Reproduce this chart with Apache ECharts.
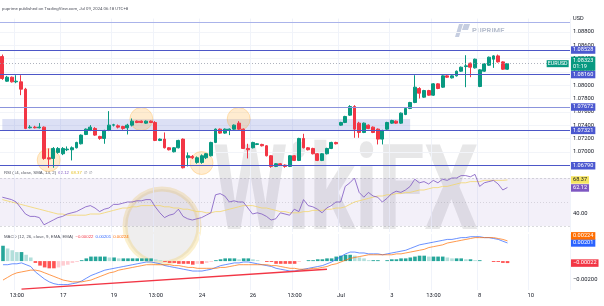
<!DOCTYPE html>
<html><head><meta charset="utf-8">
<script src="https://cdn.jsdelivr.net/npm/echarts@6/dist/echarts.min.js"></script>
<style>html,body{margin:0;padding:0;background:#fff}#c{width:604px;height:306px}</style>
</head><body><div id="c"></div>
<script>
// ---------- data ----------
const N = 123; // bar slots on time axis (incl. empty future)
const timeLabels = ['13:00','17','19','13:00','24','26','13:00','Jul','3','13:00','8','10'];
const timeLabelBars = [3,13,24,33,43,54,63,73,84,93,103,114];
const priceTicks = [1.070,1.072,1.074,1.076,1.078,1.080,1.082,1.084,1.086,1.088];
const rsiTicks = [40];
const macdTicks = [-0.002];

const opens = [1.0843,1.0806,1.0812,1.0805,1.0805,1.0794,1.0736,1.0737,1.0736,1.0737,
1.0691,1.0690,1.0699,1.0697,1.0703,1.0703,1.0706,1.0712,1.0726,1.0732,
1.0735,1.0723,1.0720,1.0732,1.0740,1.0739,1.0738,1.0736,1.0740,1.0746,
1.0746,1.0743,1.0746,1.0744,1.0717,1.0719,1.0706,1.0700,1.0706,1.0719,
1.0691,1.0693,1.0684,1.0684,1.0691,1.0694,1.0714,1.0734,1.0728,1.0732,
1.0734,1.0743,1.0734,1.0705,1.0706,1.0711,1.0711,1.0709,1.0694,1.0678,
1.0682,1.0680,1.0678,1.0694,1.0687,1.0720,1.0706,1.0705,1.0697,1.0687,
1.0697,1.0705,1.0714,1.0740,1.0744,1.0755,1.0768,1.0743,1.0729,1.0740,
1.0737,1.0734,1.0719,1.0734,1.0743,1.0746,1.0743,1.0756,1.0765,1.0774,
1.0795,1.0782,1.0792,1.0785,1.0802,1.0797,1.0814,1.0811,1.0814,1.0821,
1.0828,1.0833,1.0826,1.0798,1.0821,1.0830,1.0839,1.0844,1.0835,1.0824];
const highs = [1.0846,1.0814,1.0813,1.0815,1.0815,1.0796,1.0740,1.0739,1.0743,1.0738,
1.0705,1.0707,1.0707,1.0707,1.0708,1.0708,1.0715,1.0726,1.0735,1.0740,
1.0737,1.0724,1.0733,1.0761,1.0742,1.0741,1.0739,1.0742,1.0750,1.0747,
1.0747,1.0747,1.0747,1.0746,1.0720,1.0729,1.0707,1.0707,1.0718,1.0720,
1.0699,1.0695,1.0693,1.0696,1.0698,1.0715,1.0735,1.0735,1.0735,1.0735,
1.0741,1.0746,1.0735,1.0712,1.0715,1.0713,1.0712,1.0710,1.0695,1.0683,
1.0683,1.0681,1.0695,1.0695,1.0721,1.0727,1.0707,1.0706,1.0698,1.0698,
1.0706,1.0715,1.0715,1.0745,1.0754,1.0770,1.0770,1.0745,1.0744,1.0741,
1.0738,1.0735,1.0733,1.0745,1.0748,1.0747,1.0759,1.0766,1.0775,1.0815,
1.0797,1.0793,1.0793,1.0803,1.0803,1.0815,1.0815,1.0815,1.0822,1.0828,
1.0845,1.0834,1.0840,1.0824,1.0833,1.0843,1.0845,1.0846,1.0836,1.0833];
const lows = [1.0808,1.0805,1.0804,1.0803,1.0785,1.0734,1.0735,1.0735,1.0735,1.0688,
1.0676,1.0676,1.0697,1.0695,1.0701,1.0687,1.0705,1.0711,1.0725,1.0731,
1.0724,1.0718,1.0712,1.0731,1.0738,1.0735,1.0733,1.0726,1.0738,1.0743,
1.0743,1.0742,1.0743,1.0716,1.0716,1.0705,1.0702,1.0699,1.0705,1.0675,
1.0678,1.0689,1.0682,1.0682,1.0689,1.0693,1.0713,1.0727,1.0727,1.0725,
1.0733,1.0733,1.0704,1.0690,1.0705,1.0710,1.0708,1.0693,1.0676,1.0677,
1.0679,1.0676,1.0677,1.0686,1.0686,1.0705,1.0702,1.0696,1.0686,1.0686,
1.0696,1.0704,1.0711,1.0739,1.0743,1.0754,1.0721,1.0721,1.0728,1.0734,
1.0728,1.0711,1.0711,1.0733,1.0742,1.0742,1.0742,1.0755,1.0764,1.0773,
1.0780,1.0781,1.0784,1.0784,1.0794,1.0796,1.0811,1.0810,1.0813,1.0820,
1.0797,1.0812,1.0825,1.0797,1.0820,1.0829,1.0826,1.0834,1.0823,1.0823];
const closes = [1.0810,1.0812,1.0805,1.0806,1.0794,1.0735,1.0737,1.0736,1.0737,1.0690,
1.0689,1.0705,1.0705,1.0705,1.0704,1.0706,1.0714,1.0725,1.0734,1.0737,
1.0725,1.0720,1.0732,1.0740,1.07405,1.0737,1.0735,1.0740,1.0746,1.0744,
1.0744,1.0746,1.0744,1.0717,1.0719,1.0706,1.0703,1.0706,1.0717,1.0676,
1.0694,1.0691,1.0691,1.0694,1.0697,1.0714,1.0734,1.0728,1.0734,1.0734,
1.0740,1.0734,1.0705,1.0703,1.0714,1.0712,1.0709,1.0694,1.0678,1.0682,
1.0680,1.0678,1.0694,1.0687,1.0720,1.0706,1.0703,1.0697,1.0687,1.0697,
1.0705,1.0714,1.0712,1.0744,1.0753,1.0768,1.0734,1.0729,1.0743,1.0735,
1.0729,1.0719,1.0732,1.0744,1.0747,1.0743,1.0758,1.0765,1.0774,1.0797,
1.0788,1.0792,1.0785,1.0802,1.0795,1.0814,1.0812,1.0814,1.0821,1.0827,
1.0829,1.0827,1.0839,1.0823,1.0832,1.0842,1.0844,1.0835,1.0824,1.08323];

const levelLines = [1.08528,1.08160,1.07672,1.07321,1.06790];
const topLine = 1.08949;
const zoneLow = 1.07321, zoneHigh = 1.07492, zoneEndBar = 88;
const circleBars = [10,30,43,51];
const circlePrices = [1.06876,1.07492,1.06831,1.07492];
const lastPrice = 1.08323, lastTime = '01:19', symbolName = 'EURUSD';

const rsi = [54,53,52,50,45,40,38,38,37,31,
33,35,37,38,40,41,42,44,46,47,
45,42,44,45,48,48,49,50,50,51,
51,52,52,46,41,37,39,40,44,38,
36,35,36,37,39,41,56,57,55,50,
51,50,50,45,40,41,40,38,35,36,
41,40,39,44,42,52,47,46,44,41,
45,47,50,50,63,66,70,58,54,58,
55,54,50,53,57,59,58,60,63,69,
66,67,65,68,66,69,68,70,70,72,
72,71,73,63,66,67,68,65,60,62.12];
const rsiMa = [52,51,50,49,48,47,46,45,44,43,
42,41,40,40,39,39,39,39,39,40,
40,40,41,42,43,44,45,45,46,46,
47,47,47,47,47,46,46,45,45,44,
44,43,42,42,41,41,42,42,43,44,
45,46,47,47,47,46,45,45,44,43,
42,42,41,41,41,42,42,43,43,43,
44,44,45,45,46,48,50,51,52,53,
54,55,55,56,56,57,57,58,58,59,
60,60,61,62,62,63,63,64,65,66,
66,67,67,67,68,68,68,68,68,68.37];
const macd = [-0.0004,-0.0004,-0.0003,-0.0003,-0.0002,-0.0004,-0.0006,-0.0012,-0.0016,-0.0020,
-0.0023,-0.0025,-0.0026,-0.0026,-0.0026,-0.0025,-0.0024,-0.0022,-0.0019,-0.0016,
-0.0014,-0.0012,-0.0010,-0.0009,-0.0008,-0.0007,-0.0006,-0.0005,-0.0004,-0.0003,
-0.0002,-0.0001,-0.0001,-0.0002,-0.0003,-0.0005,-0.0006,-0.0007,-0.0008,-0.0009,
-0.0010,-0.0011,-0.0011,-0.0011,-0.0010,-0.0009,-0.0007,-0.0005,-0.0004,-0.0003,
-0.0002,-0.0002,-0.0001,-0.0001,-0.0002,-0.0003,-0.0004,-0.0005,-0.0006,-0.0008,
-0.0009,-0.0010,-0.0011,-0.0011,-0.0010,-0.0009,-0.0008,-0.0007,-0.0006,-0.0005,
-0.0003,-0.0001,0.0002,0.0005,0.0008,0.0010,0.0010,0.0009,0.0009,0.0008,
0.0008,0.0008,0.0007,0.0008,0.0009,0.0010,0.0011,0.0012,0.0014,0.0016,
0.0018,0.0019,0.0020,0.0021,0.0022,0.0023,0.0024,0.0024,0.0025,0.0026,
0.0026,0.0027,0.0027,0.0027,0.0026,0.0026,0.0025,0.0024,0.0022,0.00201];
const signal = [-0.0021,-0.0018,-0.0015,-0.0013,-0.0012,-0.0011,-0.0010,-0.0010,-0.0011,-0.0013,
-0.0015,-0.0017,-0.0019,-0.0021,-0.0022,-0.0023,-0.0023,-0.0023,-0.0022,-0.0021,
-0.0019,-0.0017,-0.0015,-0.0013,-0.0012,-0.0010,-0.0009,-0.0008,-0.0007,-0.0006,
-0.0005,-0.0004,-0.0004,-0.0004,-0.0004,-0.0004,-0.0004,-0.0005,-0.0005,-0.0006,
-0.0007,-0.0007,-0.0008,-0.0008,-0.0008,-0.0008,-0.0008,-0.0007,-0.0007,-0.0006,
-0.0005,-0.0004,-0.0004,-0.0004,-0.0004,-0.0004,-0.0004,-0.0004,-0.0005,-0.0005,
-0.0006,-0.0007,-0.0008,-0.0008,-0.0009,-0.0009,-0.0009,-0.0008,-0.0008,-0.0007,
-0.0006,-0.0004,-0.0003,-0.0001,0.0001,0.0003,0.0004,0.0005,0.0006,0.0007,
0.0007,0.0007,0.0007,0.0007,0.0007,0.0008,0.0008,0.0009,0.0010,0.0011,
0.0012,0.0013,0.0015,0.0016,0.0017,0.0018,0.0020,0.0021,0.0022,0.0023,
0.0024,0.0025,0.0026,0.0026,0.0026,0.0026,0.0026,0.0025,0.0024,0.00224];
const hist = [0.0017,0.0014,0.0012,0.0010,0.0010,0.0007,0.0004,-0.0002,-0.0005,-0.0007,
-0.0008,-0.0008,-0.0007,-0.0005,-0.0004,-0.0002,-0.0001,0.0001,0.0003,0.0005,
0.0005,0.0005,0.0005,0.0004,0.0004,0.0003,0.0003,0.0003,0.0003,0.0003,
0.0003,0.0003,0.0003,0.0002,0.0001,-0.0001,-0.0002,-0.0002,-0.0003,-0.0003,
-0.0003,-0.0004,-0.0003,-0.0003,-0.0002,-0.0001,0.0001,0.0002,0.0003,0.0003,
0.0003,0.0002,0.0003,0.0003,0.0002,0.0001,0.0000,-0.0001,-0.0001,-0.0003,
-0.0003,-0.0003,-0.0003,-0.0003,-0.0001,0.0000,0.0001,0.0001,0.0002,0.0002,
0.0003,0.0003,0.0005,0.0006,0.0007,0.0007,0.0006,0.0004,0.0003,0.0001,
0.0001,0.0001,0.0000,0.0001,0.0002,0.0002,0.0003,0.0003,0.0004,0.0005,
0.0006,0.0006,0.0005,0.0005,0.0005,0.0005,0.0004,0.0003,0.0003,0.0003,
0.0002,0.0002,0.0001,0.0001,0.0000,0.0000,-0.0001,-0.0001,-0.0002,-0.00022];
const macdTrend = [[4,-0.0031],[70,-0.0009]];

// ---------- build ----------
const FONT = 'Roboto, "Liberation Sans", sans-serif';
const xCats = Array.from({length: N}, (_, i) => { const k = timeLabelBars.indexOf(i); return k >= 0 ? timeLabels[k] : ''; });
const candles = opens.map((o, i) => [o, closes[i], lows[i], highs[i]]);
const histData = hist.map((v, i) => {
  const p = i > 0 ? hist[i-1] : v;
  let c;
  if (v >= 0) c = v >= p ? '#26a69a' : '#b2dfdb';
  else c = v <= p ? '#ff5252' : '#ffcdd2';
  return {value: v, itemStyle: {color: c}};
});
const fmtMinus = (v, d) => (v < 0 ? '\u2212' : '') + Math.abs(v).toFixed(d);
const near = (v, arr, eps) => arr.some(t => Math.abs(t - v) < eps);
const HIDE = { width: 0, color: 'rgba(0,0,0,0)' };

const boxLabel = (bg, fg, text) => ({
  show: true, position: 'end', distance: 1, formatter: text, color: fg, backgroundColor: bg,
  padding: [1, 2, 0, 2], fontSize: 5.6, fontFamily: FONT, lineHeight: 6.5
});
const vSplit = { show: true, interval: (i) => timeLabelBars.includes(i), lineStyle: { color: '#f0f3fa', width: 1 } };

function xAxis(gi, showLabels) {
  return {
    type: 'category', gridIndex: gi, data: xCats, boundaryGap: true,
    axisLine: { show: false }, axisTick: { show: false },
    axisLabel: { show: showLabels, interval: 0, color: '#131722', fontSize: 5.8, fontFamily: FONT, margin: 3 },
    splitLine: vSplit
  };
}

const chart = echarts.init(document.getElementById('c'), null, { renderer: 'canvas' });
chart.setOption({
  animation: false,
  backgroundColor: '#ffffff',
  grid: [
    { left: 0, right: 34, top: 18.6, height: 159.8 },
    { left: 0, right: 34, top: 172, height: 60 },
    { left: 0, right: 34, top: 234, height: 56 }
  ],
  xAxis: [xAxis(0, false), xAxis(1, false), xAxis(2, true)],
  yAxis: [
    { type: 'value', gridIndex: 0, position: 'right', min: 1.066, max: 1.090, interval: 0.002,
      axisLine: { show: false }, axisTick: { show: false },
      axisLabel: { color: '#131722', fontSize: 5.8, fontFamily: FONT, margin: 3,
        formatter: v => near(v, priceTicks, 1e-6) ? v.toFixed(5) : '' },
      splitLine: { show: true, showMinLine: false, showMaxLine: false, lineStyle: { color: '#f2f4f9' } } },
    { type: 'value', gridIndex: 1, position: 'right', min: 25, max: 75, interval: 5,
      axisLine: { show: false }, axisTick: { show: false }, splitLine: { show: false },
      axisLabel: { color: '#131722', fontSize: 5.8, fontFamily: FONT, margin: 3,
        formatter: v => near(v, rsiTicks, 1e-6) ? v.toFixed(2) : '' } },
    { type: 'value', gridIndex: 2, position: 'right', min: -0.0032, max: 0.003, interval: 0.0004,
      axisLine: { show: false }, axisTick: { show: false }, splitLine: { show: false },
      axisLabel: { color: '#131722', fontSize: 5.8, fontFamily: FONT, margin: 3,
        formatter: v => near(v, macdTicks, 1e-7) ? fmtMinus(v, 5) : '' } }
  ],
  series: [
    { type: 'candlestick', xAxisIndex: 0, yAxisIndex: 0, data: candles, barWidth: 3.4, z: 3,
      itemStyle: { color: '#089981', color0: '#f23645', borderColor: '#089981', borderColor0: '#f23645', borderWidth: 1 },
      markArea: { silent: true, itemStyle: { color: 'rgba(96,112,210,0.22)' },
        data: [[{ xAxis: 0, yAxis: zoneHigh }, { xAxis: zoneEndBar, yAxis: zoneLow }]] },
      markPoint: { silent: true, animation: false,
        data: [{ coord: [N - 1, lastPrice], symbol: 'rect', symbolSize: [22, 7], symbolOffset: [-10, 0],
          itemStyle: { color: '#089981' },
          label: { show: true, position: 'inside', formatter: symbolName, color: '#fff', fontSize: 5.3, fontFamily: FONT } }] }
    },
    { type: 'scatter', xAxisIndex: 0, yAxisIndex: 0, silent: true, symbolSize: 23, z: 1,
      data: circleBars.map((b, i) => [b, circlePrices[i]]),
      itemStyle: { color: 'rgba(255,183,77,0.33)', borderColor: 'rgba(255,167,38,0.45)', borderWidth: 0.8 },
      markLine: { silent: true, symbol: 'none', animation: false, precision: 6,
        data: [
          { yAxis: topLine, lineStyle: { color: '#aab3ea', width: 1, type: 'solid' }, label: { show: false } },
          ...levelLines.map((v, k) => ({ yAxis: v,
            lineStyle: { color: k === 2 ? '#8b94dc' : '#4d57c8', width: 1, type: 'solid' },
            label: boxLabel('#4b58d0', '#ffffff', v.toFixed(5)) })),
          { yAxis: lastPrice, lineStyle: { color: '#9aa0ad', width: 0.8, type: [1, 2] },
            label: boxLabel('#089981', '#ffffff', lastPrice.toFixed(5) + '\n' + lastTime) }
        ] } },
    { type: 'line', xAxisIndex: 1, yAxisIndex: 1, data: rsiMa, symbol: 'none', silent: true,
      lineStyle: { color: '#f3d56b', width: 0.8 },
      markLine: { silent: true, symbol: 'none', precision: 4, data: [
        { yAxis: rsiMa[rsiMa.length - 1], lineStyle: HIDE, label: boxLabel('#f5e461', '#131722', rsiMa[rsiMa.length - 1].toFixed(2)) }
      ] } },
    { type: 'line', xAxisIndex: 1, yAxisIndex: 1, data: rsi, symbol: 'none', silent: true,
      lineStyle: { color: '#7e57c2', width: 0.8 },
      markArea: { silent: true, itemStyle: { color: 'rgba(126,87,194,0.09)' },
        data: [[{ yAxis: 70 }, { yAxis: 30 }]] },
      markLine: { silent: true, symbol: 'none', precision: 4, data: [
        { yAxis: 70, lineStyle: { color: 'rgba(120,123,134,0.35)', width: 0.8, type: [2, 2] }, label: { show: false } },
        { yAxis: 50, lineStyle: { color: 'rgba(120,123,134,0.3)', width: 0.8, type: [1, 2] }, label: { show: false } },
        { yAxis: 30, lineStyle: { color: 'rgba(120,123,134,0.35)', width: 0.8, type: [2, 2] }, label: { show: false } },
        { yAxis: rsi[rsi.length - 1], lineStyle: HIDE, label: Object.assign(boxLabel('#7e57c2', '#ffffff', rsi[rsi.length - 1].toFixed(2)), { offset: [0, 0.5] }) }
      ] } },
    { type: 'bar', xAxisIndex: 2, yAxisIndex: 2, data: histData, barWidth: 3.6, silent: true,
      markLine: { silent: true, symbol: 'none', precision: 8, data: [
        { yAxis: hist[hist.length - 1], lineStyle: HIDE, label: boxLabel('#f23645', '#ffffff', fmtMinus(hist[hist.length - 1], 5)) }
      ] } },
    { type: 'line', xAxisIndex: 2, yAxisIndex: 2, data: macd, symbol: 'none', silent: true,
      lineStyle: { color: '#2962ff', width: 0.7 },
      markLine: { silent: true, symbol: 'none', precision: 8, data: [
        { yAxis: macd[macd.length - 1], lineStyle: HIDE, label: boxLabel('#2962ff', '#ffffff', macd[macd.length - 1].toFixed(5)) },
        [{ coord: macdTrend[0], lineStyle: { color: '#f23645', width: 1.4, type: 'solid' }, label: { show: false } }, { coord: macdTrend[1] }]
      ] } },
    { type: 'line', xAxisIndex: 2, yAxisIndex: 2, data: signal, symbol: 'none', silent: true,
      lineStyle: { color: '#ff6d00', width: 0.7 },
      markLine: { silent: true, symbol: 'none', precision: 8, data: [
        { yAxis: signal[signal.length - 1], lineStyle: HIDE, label: Object.assign(boxLabel('#ff6d00', '#ffffff', signal[signal.length - 1].toFixed(5)), { offset: [0, -5] }) }
      ] } }
  ],
  graphic: [
    { type: 'text', left: 2, top: 6.5, silent: true,
      style: { text: 'puprime published on TradingView.com, Jul 09, 2024 06:18 UTC+8', fill: '#50535e', fontSize: 4.3, fontFamily: FONT } },
    { type: 'text', left: 573, top: 16, silent: true,
      style: { text: 'USD', fill: '#131722', fontSize: 5.6, fontFamily: FONT } },
    { type: 'polygon', silent: true, shape: { points: [[459, 24], [463, 24], [459, 37], [455, 37]] }, style: { fill: '#c5cde0' } },
    { type: 'polygon', silent: true, shape: { points: [[464, 24], [470, 24], [468, 30], [462, 30]] }, style: { fill: '#c5cde0' } },
    { type: 'text', left: 472, top: 27, silent: true,
      style: { text: 'PUPRIME', fill: '#b9c0cf', fontSize: 7.5, fontWeight: 'bold', fontFamily: FONT } },
    { type: 'circle', silent: true, z: -1, shape: { cx: 162, cy: 226, r: 37 }, style: { fill: 'rgba(130,120,120,0.13)', stroke: 'rgba(240,200,80,0.28)', lineWidth: 5 } },
    { type: 'text', left: 213, top: 140, silent: true, z: -1, scaleX: 0.72,
      style: { text: 'WikiFX', fill: 'rgba(110,110,120,0.17)', fontSize: 118, fontWeight: 'bold', fontFamily: FONT } },
    { type: 'text', left: 4, top: 171, silent: true,
      style: { text: '{a|RSI (14, close, SMA, 14, 2)}  {p|62.12}  {y|68.37}  {g|\u2205  \u2205}', fontSize: 4.3, fontFamily: FONT,
        rich: { a: { fill: '#50535e', fontSize: 4.3 }, p: { fill: '#7e57c2', fontSize: 4.3 }, y: { fill: '#e6c229', fontSize: 4.3 }, g: { fill: '#787b86', fontSize: 4.3 } } } },
    { type: 'text', left: 4, top: 234.5, silent: true,
      style: { text: '{a|MACD (12, 26, close, 9, EMA, EMA)}  {r|\u22120.00022}  {b|0.00201}  {o|0.00224}', fontSize: 4.3, fontFamily: FONT,
        rich: { a: { fill: '#50535e', fontSize: 4.3 }, r: { fill: '#f23645', fontSize: 4.3 }, b: { fill: '#2962ff', fontSize: 4.3 }, o: { fill: '#ff6d00', fontSize: 4.3 } } } }
  ]
});
</script></body></html>
